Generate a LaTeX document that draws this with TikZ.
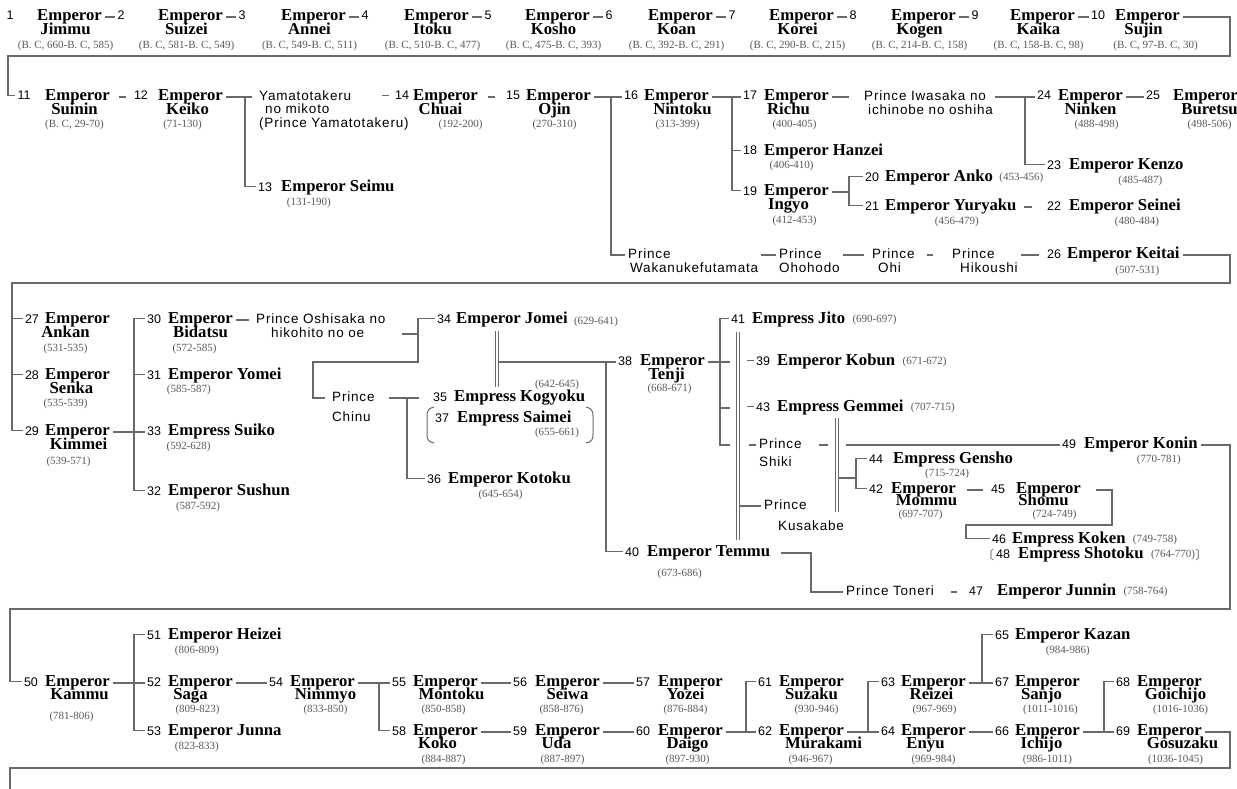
\documentclass[tikz,border=0pt]{standalone}
\usepackage{fontspec}
\setmainfont{Liberation Serif}
\setsansfont{Liberation Sans}
\newfontfamily\princefont[LetterSpace=6]{Liberation Sans}
\newfontfamily\cjkfont{Noto Sans CJK JP}
\usepackage{tikz}
\usetikzlibrary{positioning}
\definecolor{linegray}{RGB}{105,105,105}
\definecolor{dategray}{RGB}{90,90,90}

\begin{document}
\begin{tikzpicture}[x=1pt, y=-1pt,
    emp/.style={font=\fontsize{16.7}{14}\selectfont\bfseries, inner xsep=3pt, inner ysep=0pt,
      text height=11pt, text depth=3.5pt},
    num/.style={font=\sffamily\fontsize{12.5}{12}\selectfont, inner xsep=2pt, inner ysep=0pt,
      text height=9pt, text depth=0pt, yshift=1.5pt},
    dates/.style={font=\fontsize{11}{11}\selectfont, text=dategray, inner sep=0pt},
    prince/.style={font=\princefont\fontsize{13.5}{14}\selectfont, inner xsep=3pt, inner ysep=0pt,
      text height=10pt, text depth=3pt},
    tie/.style={draw=linegray, line width=1.3pt},
    wed/.style={draw=linegray, line width=0.9pt, double=white, double distance=2.2pt}]

  \fill [white] (0,0) rectangle (1237,789);
  \useasboundingbox (0,0) rectangle (1237,789);

  % row 1
  \node (N1) [num] at (10,17) {1};
  \node (E1) [emp, anchor=west] at (34,17) {Emperor};
  \node (E1b) [emp, node distance=14pt, below of=E1, xshift=-4pt] {Jimmu};
  \node (D1) [dates, node distance=15pt, below of=E1b] {(B. C, 660-B. C, 585)};
  \node (N2) [num] at (121,17) {2};
  \node (E2) [emp, anchor=west] at (155,17) {Emperor};
  \node (E2b) [emp, node distance=14pt, below of=E2, xshift=-4pt] {Suizei};
  \node (D2) [dates, node distance=15pt, below of=E2b] {(B. C, 581-B. C, 549)};
  \node (N3) [num] at (242,17) {3};
  \node (E3) [emp, anchor=west] at (278,17) {Emperor};
  \node (E3b) [emp, node distance=14pt, below of=E3, xshift=-4pt] {Annei};
  \node (D3) [dates, node distance=15pt, below of=E3b] {(B. C, 549-B. C, 511)};
  \node (N4) [num] at (365,17) {4};
  \node (E4) [emp, anchor=west] at (401,17) {Emperor};
  \node (E4b) [emp, node distance=14pt, below of=E4, xshift=-4pt] {Itoku};
  \node (D4) [dates, node distance=15pt, below of=E4b] {(B. C, 510-B. C, 477)};
  \node (N5) [num] at (488,17) {5};
  \node (E5) [emp, anchor=west] at (522,17) {Emperor};
  \node (E5b) [emp, node distance=14pt, below of=E5, xshift=-4pt] {Kosho};
  \node (D5) [dates, node distance=15pt, below of=E5b] {(B. C, 475-B. C, 393)};
  \node (N6) [num] at (609,17) {6};
  \node (E6) [emp, anchor=west] at (645,17) {Emperor};
  \node (E6b) [emp, node distance=14pt, below of=E6, xshift=-4pt] {Koan};
  \node (D6) [dates, node distance=15pt, below of=E6b] {(B. C, 392-B. C, 291)};
  \node (N7) [num] at (732,17) {7};
  \node (E7) [emp, anchor=west] at (766,17) {Emperor};
  \node (E7b) [emp, node distance=14pt, below of=E7, xshift=-4pt] {Korei};
  \node (D7) [dates, node distance=15pt, below of=E7b] {(B. C, 290-B. C, 215)};
  \node (N8) [num] at (853,17) {8};
  \node (E8) [emp, anchor=west] at (888,17) {Emperor};
  \node (E8b) [emp, node distance=14pt, below of=E8, xshift=-4pt] {Kogen};
  \node (D8) [dates, node distance=15pt, below of=E8b] {(B. C, 214-B. C, 158)};
  \node (N9) [num] at (975,17) {9};
  \node (E9) [emp, anchor=west] at (1007,17) {Emperor};
  \node (E9b) [emp, node distance=14pt, below of=E9, xshift=-4pt] {Kaika};
  \node (D9) [dates, node distance=15pt, below of=E9b] {(B. C, 158-B. C, 98)};
  \node (N10) [num] at (1098,17) {10};
  \node (E10) [emp, anchor=west] at (1112,17) {Emperor};
  \node (E10b) [emp, node distance=14pt, below of=E10, xshift=-4pt] {Sujin};
  \node (D10) [dates, node distance=15pt, below of=E10b, xshift=12pt] {(B. C, 97-B. C, 30)};

  \draw [tie] (E1.east) -- (E1.east -| N2.west);
  \draw [tie] (E2.east) -- (E2.east -| N3.west);
  \draw [tie] (E3.east) -- (E3.east -| N4.west);
  \draw [tie] (E4.east) -- (E4.east -| N5.west);
  \draw [tie] (E5.east) -- (E5.east -| N6.west);
  \draw [tie] (E6.east) -- (E6.east -| N7.west);
  \draw [tie] (E7.east) -- (E7.east -| N8.west);
  \draw [tie] (E8.east) -- (E8.east -| N9.west);
  \draw [tie] (E9.east) -- (E9.east -| N10.west);

  % row 2
  \node (N11) [num] at (24,97) {11};
  \node (E11) [emp, anchor=west] at (42,97) {Emperor};
  \node (E11b) [emp, node distance=14pt, below of=E11, xshift=-3pt] {Suinin};
  \node (D11) [dates, node distance=14pt, below of=E11b] {(B. C, 29-70)};
  \node (N12) [num] at (141,97) {12};
  \node (E12) [emp, anchor=west] at (155,97) {Emperor};
  \node (E12b) [emp, node distance=14pt, below of=E12, xshift=-3pt] {Keiko};
  \node (D12) [dates, node distance=14pt, below of=E12b, xshift=-5pt] {(71-130)};
  \node (Pyam) [prince, anchor=west] at (256,97) {Yamatotakeru};
  \node (Pyamb) [prince, anchor=west] at (262,110) {no mikoto};
  \node (Pyamc) [prince, anchor=west] at (256,124) {(Prince Yamatotakeru)};
  \node (N13) [num] at (265,188) {13};
  \node (E13) [emp, anchor=west] at (278,188) {Emperor Seimu};
  \node (D13) [dates, below=2pt of E13, xshift=-29pt] {(131-190)};
  \node (N14) [num] at (402,97) {14};
  \node (E14) [emp, anchor=west] at (410,97) {Emperor};
  \node (E14b) [emp, node distance=14pt, below of=E14, xshift=-5pt] {Chuai};
  \node (D14) [dates, node distance=14pt, below of=E14b, xshift=20pt] {(192-200)};
  \node (N15) [num] at (513,97) {15};
  \node (E15) [emp, anchor=west] at (523,97) {Emperor};
  \node (E15b) [emp, node distance=14pt, below of=E15, xshift=-4pt] {Ojin};
  \node (D15) [dates, node distance=14pt, below of=E15b] {(270-310)};
  \node (N16) [num] at (631,97) {16};
  \node (E16) [emp, anchor=west] at (641,97) {Emperor};
  \node (E16b) [emp, node distance=14pt, below of=E16, xshift=6pt] {Nintoku};
  \node (D16) [dates, node distance=14pt, below of=E16b, xshift=-5pt] {(313-399)};
  \node (N17) [num] at (750,97) {17};
  \node (E17) [emp, anchor=west] at (761,97) {Emperor};
  \node (E17b) [emp, node distance=14pt, below of=E17, xshift=-8pt] {Richu};
  \node (D17) [dates, node distance=14pt, below of=E17b, xshift=6pt] {(400-405)};
  \node (Piwa) [prince, anchor=west] at (861,97) {Prince Iwasaka no};
  \node (Piwab) [prince, anchor=west] at (865,111) {ichinobe no oshiha};
  \node (N24) [num] at (1044,97) {24};
  \node (E24) [emp, anchor=west] at (1055,97) {Emperor};
  \node (E24b) [emp, node distance=14pt, below of=E24] {Ninken};
  \node (D24) [dates, node distance=14pt, below of=E24b, xshift=6pt] {(488-498)};
  \node (N25) [num] at (1153,97) {25};
  \node (E25) [emp, anchor=west] at (1170,97) {Emperor};
  \node (E25b) [emp, node distance=14pt, below of=E25, xshift=4pt] {Buretsu};
  \node (D25) [dates, node distance=14pt, below of=E25b] {(498-506)};
  \node (N18) [num] at (750,152) {18};
  \node (E18) [emp, anchor=west] at (761,152) {Emperor Hanzei};
  \node (D18) [dates, below=1pt of E18, xshift=-32pt] {(406-410)};
  \node (N23) [num] at (1054,166) {23};
  \node (E23) [emp, anchor=west] at (1066,166) {Emperor Kenzo};
  \node (D23) [dates, below=2pt of E23, xshift=14pt] {(485-487)};
  \node (N19) [num] at (750,192) {19};
  \node (E19) [emp, anchor=west] at (761,192) {Emperor};
  \node (E19b) [emp, node distance=14pt, below of=E19, xshift=-8pt] {Ingyo};
  \node (D19) [dates, node distance=15pt, below of=E19b, xshift=6pt] {(412-453)};
  \node (N20) [num] at (872,178) {20};
  \node (E20) [emp, anchor=west] at (882,178) {Emperor Anko};
  \node (D20) [dates, right=3pt of E20] {(453-456)};
  \node (N21) [num] at (872,207) {21};
  \node (E21) [emp, anchor=west] at (882,207) {Emperor Yuryaku};
  \node (D21) [dates, below=2pt of E21, xshift=6pt] {(456-479)};
  \node (N22) [num] at (1054,207) {22};
  \node (E22) [emp, anchor=west] at (1066,207) {Emperor Seinei};
  \node (D22) [dates, below=2pt of E22, xshift=12pt] {(480-484)};

  \node (Pwak) [prince, anchor=west] at (625,255) {Prince};
  \node (Pwakb) [prince, anchor=west] at (627,269) {Wakanukefutamata};
  \node (Poho) [prince, anchor=west] at (776,255) {Prince};
  \node (Pohob) [prince, anchor=west] at (776,269) {Ohohodo};
  \node (Pohi) [prince, anchor=west] at (869,255) {Prince};
  \node (Pohib) [prince, anchor=west] at (875,269) {Ohi};
  \node (Phik) [prince, anchor=west] at (949,255) {Prince};
  \node (Phikb) [prince, anchor=west] at (957,269) {Hikoushi};
  \node (N26) [num] at (1054,255) {26};
  \node (E26) [emp, anchor=west] at (1064,255) {Emperor Keitai};
  \node (D26) [dates, below=3pt of E26, xshift=14pt] {(507-531)};

  \coordinate (R1) at (1230,56);
  \coordinate (L1) at (8,56);
  \draw [tie] (E10.east) -| (R1) -- (L1) |- (N11.west);
  \draw [tie, shorten <=6pt, shorten >=6pt] (E11.east) -- (E11.east -| N12.west);
  \coordinate (J12) at (245,97);
  \draw [tie, shorten >=4pt] (E12.east) -- (Pyam.west);
  \draw [tie] (J12) |- (N13.west);
  \draw [tie, shorten >=4pt] ([xshift=-11pt]N14.west) -- (N14.west);
  \draw [tie, shorten <=7pt, shorten >=9pt] (E14.east) -- (E14.east -| N15.west);
  \coordinate (J15) at (611,97);
  \draw [tie] (E15.east) -- (E15.east -| N16.west);
  \draw [tie] (J15) |- (Pwak.west);
  \coordinate (J16) at (732,97);
  \draw [tie] (E16.east) -- (E16.east -| N17.west);
  \draw [tie] (J16) |- (N19.west);
  \draw [tie] (J16 |- N18.west) -- (N18.west);
  \draw [tie, shorten >=12pt] (E17.east) -- (E17.east -| Piwa.west);
  \coordinate (J17) at (1025,97);
  \draw [tie, shorten <=6pt] (Piwa.east) -- (Piwa.east -| N24.west);
  \draw [tie] (J17) |- (N23.west);
  \draw [tie] (E24.east) -- (E24.east -| N25.west);
  \coordinate (J19) at (849,192);
  \draw [tie] (E19.east) -- (J19);
  \draw [tie] (N20.west) -| (J19) |- (N21.west);
  \draw [tie, shorten <=4pt, shorten >=13pt] (E21.east) -- (E21.east -| N22.west);
  \draw [tie] (Pwakb.east |- Pwak.east) -- (Poho.west);
  \draw [tie, shorten >=5pt] (Pohob.east |- Poho.east) -- (Pohi.west);
  \draw [tie, shorten <=9pt, shorten >=16pt] (Pohi.east) -- (Phik.west);
  \draw [tie, shorten >=6pt] (Phikb.east |- Phik.east) -- (Phik.east -| N26.west);

  % row 3
  \node (N27) [num] at (32,320) {27};
  \node (E27) [emp, anchor=west] at (42,320) {Emperor};
  \node (E27b) [emp, node distance=14pt, below of=E27, xshift=-12pt] {Ankan};
  \node (D27) [dates, node distance=15pt, below of=E27b] {(531-535)};
  \node (N28) [num] at (32,376) {28};
  \node (E28) [emp, anchor=west] at (42,376) {Emperor};
  \node (E28b) [emp, node distance=14pt, below of=E28, xshift=-6pt] {Senka};
  \node (D28) [dates, node distance=14pt, below of=E28b, xshift=-6pt] {(535-539)};
  \node (N29) [num] at (32,432) {29};
  \node (E29) [emp, anchor=west] at (42,432) {Emperor};
  \node (E29b) [emp, node distance=14pt, below of=E29, xshift=1pt] {Kimmei};
  \node (D29) [dates, node distance=16pt, below of=E29b, xshift=-10pt] {(539-571)};
  \node (N30) [num] at (154,320) {30};
  \node (E30) [emp, anchor=west] at (165,320) {Emperor};
  \node (E30b) [emp, node distance=14pt, below of=E30] {Bidatsu};
  \node (D30) [dates, node distance=15pt, below of=E30b, xshift=-6pt] {(572-585)};
  \node (Posh) [prince, anchor=west] at (253,320) {Prince Oshisaka no};
  \node (Poshb) [prince, anchor=west] at (268,334) {hikohito no oe};
  \node (N31) [num] at (154,376) {31};
  \node (E31) [emp, anchor=west] at (165,376) {Emperor Yomei};
  \node (D31) [dates, below=1pt of E31, xshift=-36pt] {(585-587)};
  \node (N33) [num] at (154,432) {33};
  \node (E33) [emp, anchor=west] at (165,432) {Empress Suiko};
  \node (D33) [dates, below=2pt of E33, xshift=-33pt] {(592-628)};
  \node (N32) [num] at (154,492) {32};
  \node (E32) [emp, anchor=west] at (165,492) {Emperor Sushun};
  \node (D32) [dates, below=2pt of E32, xshift=-31pt] {(587-592)};
  \node (N34) [num] at (444,320) {34};
  \node (E34) [emp, anchor=west] at (453,320) {Emperor Jomei};
  \node (D34) [dates, right=3pt of E34, yshift=-2pt] {(629-641)};
  \node (Pchi) [prince, anchor=west] at (329,398) {Prince};
  \node (Pchib) [prince, anchor=west] at (329,418) {Chinu};
  \node (N35) [num] at (440,398) {35};
  \node (E35) [emp, anchor=west] at (451,398) {Empress Kogyoku};
  \node (D35) [dates] at (557,385) {(642-645)};
  \node (N37) [num] at (442,419) {37};
  \node (E37) [emp, anchor=west] at (454,419) {Empress Saimei};
  \node (D37) [dates] at (557,433) {(655-661)};
  \node (N36) [num] at (434,480) {36};
  \node (E36) [emp, anchor=west] at (445,480) {Emperor Kotoku};
  \node (D36) [dates, below=2pt of E36, xshift=-9pt] {(645-654)};
  \node (N38) [num] at (625,362) {38};
  \node (E38) [emp, anchor=west] at (637,362) {Emperor};
  \node (E38b) [emp, node distance=14pt, below of=E38, xshift=-6pt] {Tenji};
  \node (D38) [dates, node distance=13pt, below of=E38b, xshift=3pt] {(668-671)};
  \node (N40) [num] at (632,553) {40};
  \node (E40) [emp, anchor=west] at (644,553) {Emperor Temmu};
  \node (D40) [dates, below=8pt of E40, xshift=-29pt] {(673-686)};
  \node (N41) [num] at (738,320) {41};
  \node (E41) [emp, anchor=west] at (749,320) {Empress Jito};
  \node (D41) [dates, right=4pt of E41] {(690-697)};
  \node (N39) [num] at (763,362) {39};
  \node (E39) [emp, anchor=west] at (774,362) {Emperor Kobun};
  \node (D39) [dates, right=4pt of E39] {(671-672)};
  \node (N43) [num] at (763,408) {43};
  \node (E43) [emp, anchor=west] at (774,408) {Empress Gemmei};
  \node (D43) [dates, right=4pt of E43] {(707-715)};
  \node (Pshi) [prince, anchor=west] at (756,445) {Prince};
  \node (Pshib) [prince, anchor=west] at (756,463) {Shiki};
  \node (Pkus) [prince, anchor=west] at (761,506) {Prince};
  \node (Pkusb) [prince, anchor=west] at (775,527) {Kusakabe};
  \node (N49) [num] at (1069,445) {49};
  \node (E49) [emp, anchor=west] at (1081,445) {Emperor Konin};
  \node (D49) [dates, below=2pt of E49, xshift=18pt] {(770-781)};
  \node (N44) [num] at (876,460) {44};
  \node (E44) [emp, anchor=west] at (890,460) {Empress Gensho};
  \node (D44) [dates, below=1pt of E44, xshift=-6pt] {(715-724)};
  \node (N42) [num] at (876,490) {42};
  \node (E42) [emp, anchor=west] at (888,490) {Emperor};
  \node (E42b) [emp, node distance=12pt, below of=E42, xshift=3pt] {Mommu};
  \node (D42) [dates, node distance=13pt, below of=E42b, xshift=-6pt] {(697-707)};
  \node (N45) [num] at (998,490) {45};
  \node (E45) [emp, anchor=west] at (1013,490) {Emperor};
  \node (E45b) [emp, node distance=12pt, below of=E45, xshift=-5pt] {Shomu};
  \node (D45) [dates, node distance=13pt, below of=E45b, xshift=11pt] {(724-749)};
  \node (N46) [num] at (999,540) {46};
  \node (E46) [emp, anchor=west] at (1009,540) {Empress Koken};
  \node (D46) [dates, right=4pt of E46] {(749-758)};
  \node (Bl48) [dates, font=\cjkfont\fontsize{12}{12}\selectfont] at (988,555) {〔};
  \node (N48) [num] at (1003,555) {48};
  \node (E48) [emp, anchor=west] at (1015,555) {Empress Shotoku};
  \node (D48) [dates, right=4pt of E48] {(764-770)};
  \node (Br48) [dates, font=\cjkfont\fontsize{12}{12}\selectfont, right=0pt of D48] {〕};
  \node (Pton) [prince, anchor=west] at (843,592) {Prince Toneri};
  \node (N47) [num] at (976,592) {47};
  \node (E47) [emp, anchor=west] at (994,592) {Emperor Junnin};
  \node (D47) [dates, right=4pt of E47] {(758-764)};

  \coordinate (R2) at (1230,283);
  \coordinate (L2) at (12,283);
  \draw [tie] (E26.east) -| (R2) -- (L2) |- (N29.west);
  \draw [tie] (L2 |- N27.west) -- (N27.west);
  \draw [tie] (L2 |- N28.west) -- (N28.west);
  \coordinate (J29) at (134,432);
  \draw [tie] (E29.east) -- (E29.east -| N33.west);
  \draw [tie] (N30.west) -| (J29) |- (N32.west);
  \draw [tie] (J29 |- N31.west) -- (N31.west);
  \draw [tie, shorten >=4pt] (E30.east) -- (E30.east -| Posh.west);
  \coordinate (J30a) at (402,334);
  \coordinate (J30b) at (418,362);
  \coordinate (J30c) at (313,362);
  \draw [tie] (J30a) -- (J30a -| J30b);
  \draw [tie, shorten >=4pt] (N34.west) -| (J30b) -- (J30c) |- (Pchi.west);
  \coordinate (J31) at (407,398);
  \draw [tie, shorten <=11pt, shorten >=12pt] (Pchi.east) -- (Pchi.east -| N35.west);
  \draw [tie] (J31) |- (N36.west);
  \draw [linegray, line width=1pt] (434,407) .. controls (428,408) and (427,412) .. (427,416)
    -- (427,434) .. controls (427,439) and (428,442) .. (434,443);
  \draw [linegray, line width=1pt] (586,407) .. controls (592,408) and (593,412) .. (593,416)
    -- (593,434) .. controls (593,439) and (592,442) .. (586,443);
  \coordinate (W34a) at (497,331);
  \coordinate (W34b) at (497,387);
  \draw [wed] (W34a) -- (W34b);
  \coordinate (J34) at (499,362);
  \coordinate (J38) at (606,362);
  \draw [tie] (J34) -- (J34 -| N38.west);
  \draw [tie] (J38) |- (N40.west);
  \coordinate (S38) at (730,362);
  \coordinate (S38b) at (730,408);
  \coordinate (J38c) at (720,445);
  \coordinate (S38c) at (730,445);
  \draw [tie] (E38.east) -- (S38);
  \draw [tie] (N41.west) -| (J38c) -- (S38c);
  \draw [tie] (S38b -| J38c) -- (S38b);
  \coordinate (W41a) at (738,332);
  \coordinate (W41b) at (738,540);
  \coordinate (W41c) at (740,506);
  \draw [wed] (W41a) -- (W41b);
  \draw [tie] (W41c) -- (Pkus.west);
  \draw [tie] ([xshift=-7pt]N39.west) -- (N39.west);
  \draw [tie] ([xshift=-7pt]N43.west) -- (N43.west);
  \draw [tie] ([xshift=-7pt]Pshi.west) -- (Pshi.west);
  \coordinate (W43a) at (837,418);
  \coordinate (W43b) at (837,512);
  \draw [wed] (W43a) -- (W43b);
  \coordinate (K1) at (828,445);
  \coordinate (K2) at (846,445);
  \draw [tie, shorten <=14pt] (Pshi.east) -- (K1);
  \draw [tie] (K2) -- (K2 -| N49.west);
  \coordinate (W43c) at (839,478);
  \coordinate (J44) at (856,478);
  \draw [tie] (W43c) -- (J44);
  \draw [tie] (N44.west) -| (J44) |- (N42.west);
  \draw [tie, shorten <=8pt, shorten >=6pt] (E42.east) -- (E42.east -| N45.west);
  \coordinate (J45a) at (1112,525);
  \coordinate (J45b) at (966,525);
  \draw [tie, shorten <=12pt] (E45.east) -| (J45a) -- (J45b) |- (N46.west);
  \coordinate (J40) at (811,592);
  \draw [tie, shorten <=8pt] (E40.east) -| (J40) -- (J40 -| Pton.west);
  \draw [tie, shorten <=14pt, shorten >=10pt] (Pton.east) -- (Pton.east -| N47.west);

  % row 4
  \node (N50) [num] at (31,683) {50};
  \node (E50) [emp, anchor=west] at (42,683) {Emperor};
  \node (E50b) [emp, node distance=13pt, below of=E50, xshift=2pt] {Kammu};
  \node (D50) [dates, node distance=21pt, below of=E50b, xshift=-8pt] {(781-806)};
  \node (N51) [num] at (154,636) {51};
  \node (E51) [emp, anchor=west] at (165,636) {Emperor Heizei};
  \node (D51) [dates, below=2pt of E51, xshift=-28pt] {(806-809)};
  \node (N52) [num] at (154,683) {52};
  \node (E52) [emp, anchor=west] at (165,683) {Emperor};
  \node (E52b) [emp, node distance=13pt, below of=E52, xshift=-10pt] {Saga};
  \node (D52) [dates, node distance=14pt, below of=E52b, xshift=7pt] {(809-823)};
  \node (N53) [num] at (154,732) {53};
  \node (E53) [emp, anchor=west] at (165,732) {Emperor Junna};
  \node (D53) [dates, below=2pt of E53, xshift=-28pt] {(823-833)};
  \node (N54) [num] at (276,683) {54};
  \node (E54) [emp, anchor=west] at (287,683) {Emperor};
  \node (E54b) [emp, node distance=13pt, below of=E54, xshift=3pt] {Nimmyo};
  \node (D54) [dates, node distance=14pt, below of=E54b] {(833-850)};
  \node (N55) [num] at (399,683) {55};
  \node (E55) [emp, anchor=west] at (410,683) {Emperor};
  \node (E55b) [emp, node distance=13pt, below of=E55, xshift=6pt] {Montoku};
  \node (D55) [dates, node distance=14pt, below of=E55b, xshift=-8pt] {(850-858)};
  \node (N56) [num] at (520,683) {56};
  \node (E56) [emp, anchor=west] at (532,683) {Emperor};
  \node (E56b) [emp, node distance=13pt, below of=E56] {Seiwa};
  \node (D56) [dates, node distance=14pt, below of=E56b, xshift=-6pt] {(858-876)};
  \node (N57) [num] at (643,683) {57};
  \node (E57) [emp, anchor=west] at (655,683) {Emperor};
  \node (E57b) [emp, node distance=13pt, below of=E57, xshift=-5pt] {Yozei};
  \node (D57) [dates, node distance=14pt, below of=E57b] {(876-884)};
  \node (N58) [num] at (399,732) {58};
  \node (E58) [emp, anchor=west] at (410,732) {Emperor};
  \node (E58b) [emp, node distance=13pt, below of=E58, xshift=-8pt] {Koko};
  \node (D58) [dates, node distance=15pt, below of=E58b, xshift=6pt] {(884-887)};
  \node (N59) [num] at (520,732) {59};
  \node (E59) [emp, anchor=west] at (532,732) {Emperor};
  \node (E59b) [emp, node distance=13pt, below of=E59, xshift=-11pt] {Uda};
  \node (D59) [dates, node distance=15pt, below of=E59b, xshift=6pt] {(887-897)};
  \node (N60) [num] at (643,732) {60};
  \node (E60) [emp, anchor=west] at (655,732) {Emperor};
  \node (E60b) [emp, node distance=13pt, below of=E60, xshift=-3pt] {Daigo};
  \node (D60) [dates, node distance=15pt, below of=E60b] {(897-930)};
  \node (N61) [num] at (765,683) {61};
  \node (E61) [emp, anchor=west] at (776,683) {Emperor};
  \node (E61b) [emp, node distance=13pt, below of=E61] {Suzaku};
  \node (D61) [dates, node distance=14pt, below of=E61b, xshift=5pt] {(930-946)};
  \node (N62) [num] at (765,732) {62};
  \node (E62) [emp, anchor=west] at (776,732) {Emperor};
  \node (E62b) [emp, node distance=13pt, below of=E62, xshift=12pt] {Murakami};
  \node (D62) [dates, node distance=15pt, below of=E62b, xshift=-13pt] {(946-967)};
  \node (N63) [num] at (888,683) {63};
  \node (E63) [emp, anchor=west] at (898,683) {Emperor};
  \node (E63b) [emp, node distance=13pt, below of=E63, xshift=-2pt] {Reizei};
  \node (D63) [dates, node distance=14pt, below of=E63b, xshift=3pt] {(967-969)};
  \node (N64) [num] at (888,732) {64};
  \node (E64) [emp, anchor=west] at (898,732) {Emperor};
  \node (E64b) [emp, node distance=13pt, below of=E64, xshift=-8pt] {Enyu};
  \node (D64) [dates, node distance=15pt, below of=E64b, xshift=8pt] {(969-984)};
  \node (N65) [num] at (1002,636) {65};
  \node (E65) [emp, anchor=west] at (1012,636) {Emperor Kazan};
  \node (D65) [dates, below=2pt of E65, xshift=-5pt] {(984-986)};
  \node (N67) [num] at (1002,683) {67};
  \node (E67) [emp, anchor=west] at (1012,683) {Emperor};
  \node (E67b) [emp, node distance=13pt, below of=E67, xshift=-6pt] {Sanjo};
  \node (D67) [dates, node distance=14pt, below of=E67b, xshift=9pt] {(1011-1016)};
  \node (N66) [num] at (1002,732) {66};
  \node (E66) [emp, anchor=west] at (1012,732) {Emperor};
  \node (E66b) [emp, node distance=13pt, below of=E66, xshift=-6pt] {Ichijo};
  \node (D66) [dates, node distance=15pt, below of=E66b, xshift=6pt] {(986-1011)};
  \node (N68) [num] at (1123,683) {68};
  \node (E68) [emp, anchor=west] at (1134,683) {Emperor};
  \node (E68b) [emp, node distance=13pt, below of=E68, xshift=6pt] {Goichijo};
  \node (D68) [dates, node distance=14pt, below of=E68b, xshift=5pt] {(1016-1036)};
  \node (N69) [num] at (1123,732) {69};
  \node (E69) [emp, anchor=west] at (1134,732) {Emperor};
  \node (E69b) [emp, node distance=13pt, below of=E69, xshift=13pt] {Gosuzaku};
  \node (D69) [dates, node distance=15pt, below of=E69b, xshift=-7pt] {(1036-1045)};

  \coordinate (R3) at (1230,609);
  \coordinate (L3) at (10,609);
  \draw [tie] (E49.east) -| (R3) -- (L3) |- (N50.west);
  \coordinate (J50) at (134,683);
  \draw [tie] (E50.east) -- (E50.east -| N52.west);
  \draw [tie] (N51.west) -| (J50) |- (N53.west);
  \draw [tie] (E52.east) -- (E52.east -| N54.west);
  \coordinate (J54) at (379,683);
  \draw [tie] (E54.east) -- (E54.east -| N55.west);
  \draw [tie] (J54) |- (N58.west);
  \draw [tie] (E55.east) -- (E55.east -| N56.west);
  \draw [tie] (E56.east) -- (E56.east -| N57.west);
  \draw [tie] (E58.east) -- (E58.east -| N59.west);
  \draw [tie] (E59.east) -- (E59.east -| N60.west);
  \coordinate (J60) at (746,732);
  \draw [tie] (E60.east) -- (E60.east -| N62.west);
  \draw [tie] (N61.west) -| (J60);
  \coordinate (J62) at (868,732);
  \draw [tie] (E62.east) -- (E62.east -| N64.west);
  \draw [tie] (N63.west) -| (J62);
  \coordinate (J63) at (982,683);
  \draw [tie] (E63.east) -- (E63.east -| N67.west);
  \draw [tie] (N65.west) -| (J63);
  \draw [tie] (E64.east) -- (E64.east -| N66.west);
  \coordinate (J66) at (1104,732);
  \draw [tie] (E66.east) -- (E66.east -| N69.west);
  \draw [tie] (N68.west) -| (J66);
  \coordinate (R4) at (1230,768);
  \coordinate (L4) at (10,768);
  \coordinate (B4) at (10,789);
  \draw [tie] (E69.east) -| (R4) -- (L4) -- (B4);

\end{tikzpicture}
\end{document}
